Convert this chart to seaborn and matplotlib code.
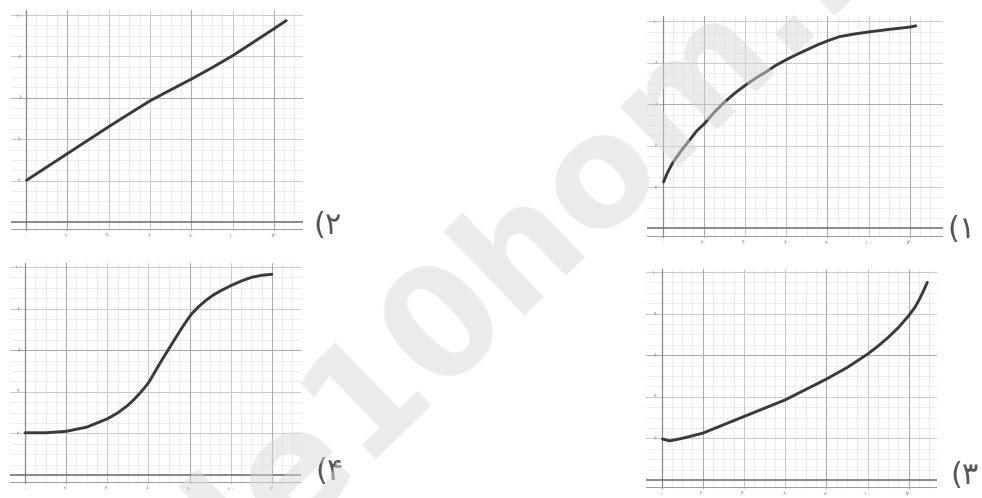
import matplotlib
matplotlib.use("Agg")
import matplotlib.pyplot as plt
import seaborn as sns
import pandas as pd

sns.set_theme(style="white")
plt.rcParams['font.family'] = ['DejaVu Sans']

W, H = 982, 498

# ---- data ----
x1 = [0.5, 2.5, 5, 9, 13, 16.5, 20.5, 25, 29.5, 35, 40.5, 45.5, 50.5, 55, 60, 65, 70, 75, 80.5, 86, 94, 102, 111, 120, 123]
y1 = [22.5, 27.2, 31.8, 37.5, 42.5, 47, 50.8, 56, 60.5, 65.3, 69.4, 72.8, 75.8, 78.8, 81.5, 84, 86.3, 88.6, 90.8, 92.7, 94.1, 95.2, 96.3, 97.3, 97.9]

x2 = [0.3, 10, 20, 30, 40, 50, 60, 70, 80, 90, 100, 110, 120, 126]
y2 = [20.2, 26.5, 33, 39.5, 46, 52.3, 58.5, 63.8, 69, 74.5, 80.3, 86.8, 93.3, 97.3]

x3 = [0.5, 4, 10, 20, 30, 40, 50, 60, 70, 80, 90, 100, 105, 110, 115, 120, 123, 125, 127, 129]
y3 = [19.7, 18.8, 20, 22.5, 26.5, 30.5, 34.5, 38.5, 43.5, 48.5, 54, 60.5, 64.3, 68.5, 73.3, 79, 83, 86.5, 90.5, 95]

x4 = [0, 10, 20, 30, 40, 45, 50, 53, 56, 58, 60, 62, 64, 67, 69.5, 72, 76, 78.5, 81, 84.5, 88, 91.5, 95, 100, 105, 110, 115, 120]
y4 = [20.3, 20.3, 21, 23, 27, 29.8, 33.5, 36.3, 39.5, 41.8, 44.3, 47.6, 51, 56, 60, 64, 70.3, 74, 77.5, 81, 84, 86.5, 88.5, 91, 93.2, 95, 96, 96.5]

x_ticks = [0, 20, 40, 60, 80, 100, 120]
x_tick_labels = ["۰", "۲۰", "۴۰", "۶۰", "۸۰", "۱۰۰", "۱۲۰"]
y_ticks = [20, 40, 60, 80, 100]
y_tick_labels = ["۲۰", "۴۰", "۶۰", "۸۰", "۱۰۰"]
panel_labels = ["(۱", "(۲", "(۳", "(۴"]

# calibration: pixel of x=0, px per unit x, pixel of y=0, px per unit y, xlim, ylim, label pos
panels = [
    dict(x=x1, y=y1, px0=662.5, sx=2.06, py0=228.5, sy=2.07, xlim=(-7.5, 136), ylim=(-4.5, 102.5),
         lab=panel_labels[0], lpos=(962, 229)),
    dict(x=x2, y=y2, px0=26, sx=2.065, py0=222, sy=2.07, xlim=(-7.5, 134), ylim=(-4.5, 102.5),
         lab=panel_labels[1], lpos=(327, 225)),
    dict(x=x3, y=y3, px0=661.5, sx=2.06, py0=480, sy=2.08, xlim=(-7.5, 133.5), ylim=(-4.5, 101.5),
         lab=panel_labels[2], lpos=(965, 475)),
    dict(x=x4, y=y4, px0=25, sx=2.057, py0=475, sy=2.08, xlim=(-7.5, 134), ylim=(-4.5, 102),
         lab=panel_labels[3], lpos=(330, 471)),
]

fig = plt.figure(figsize=(W / 100, H / 100), dpi=100)
fig.patch.set_facecolor("white")

for p in panels:
    xl, xr = p["xlim"]
    yb, yt = p["ylim"]
    left = (p["px0"] + xl * p["sx"]) / W
    right = (p["px0"] + xr * p["sx"]) / W
    top = 1 - (p["py0"] - yt * p["sy"]) / H
    bottom = 1 - (p["py0"] - yb * p["sy"]) / H
    ax = fig.add_axes([left, bottom, right - left, top - bottom])
    ax.set_xlim(xl, xr)
    ax.set_ylim(yb, yt)
    for s in ax.spines.values():
        s.set_visible(False)
    ax.set_xticks([])
    ax.set_yticks([])
    ax.set_facecolor("none")

    # graph-paper grid
    for v in range(5, 135, 5):
        if v > xr:
            break
        ax.axvline(v, color="#e6e6e6", lw=0.5, zorder=0)
    for v in range(5, 101, 5):
        ax.axhline(v, color="#e6e6e6", lw=0.5, zorder=0)
    for v in [20, 40, 60, 80, 100, 120]:
        ax.axvline(v, color="#cacaca", lw=0.7, zorder=0)
    for v in [20, 40, 60, 80, 100]:
        ax.axhline(v, color="#cacaca", lw=0.7, zorder=0)
    for v in [20, 80, 120]:
        ax.axvline(v, color="#adadad", lw=0.8, zorder=0)
    ax.axhline(60, color="#adadad", lw=0.8, zorder=0)

    # axes lines
    ax.axvline(0, color="#8a8a8a", lw=0.9, zorder=1)
    ax.axhline(0, color="#6a6a6a", lw=1.1, zorder=1)
    ax.axhline(-3.5, color="#9a9a9a", lw=0.7, zorder=1)

    # tick labels
    for t, lab in zip(x_ticks, x_tick_labels):
        ax.text(t, -5.5, lab, fontsize=3.5, color="#777777", ha="center", va="top", clip_on=False)
    for t, lab in zip(y_ticks, y_tick_labels):
        ax.text(-1.2, t, lab, fontsize=3.5, color="#777777", ha="right", va="center", clip_on=False)

    df = pd.DataFrame({"x": p["x"], "y": p["y"]})
    sns.lineplot(data=df, x="x", y="y", ax=ax, color="#3a3a3a", lw=2.1, zorder=3,
                 estimator=None, sort=False)
    ax.set_xlabel("")
    ax.set_ylabel("")

    lx, ly = p["lpos"]
    fig.text(lx / W, 1 - ly / H, p["lab"], fontsize=22, color="#555555",
             ha="center", va="center")

# watermark
fig.text(512 / W, 1 - 267 / H, "file10hom.ir", fontsize=110, fontweight="bold",
         color="#d8d8d8", alpha=0.5, rotation=44, ha="center", va="center",
         rotation_mode="anchor", zorder=10)

fig.savefig("out.png", dpi=100, facecolor="white")
